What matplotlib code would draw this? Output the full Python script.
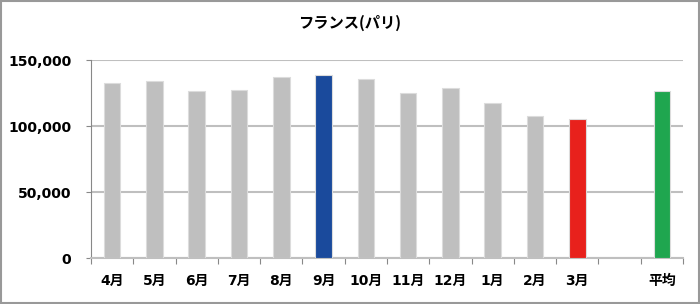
import numpy as np
import matplotlib.pyplot as plt
from matplotlib.patches import Rectangle

plt.rcParams['font.family'] = ['DejaVu Sans', 'Noto Sans CJK JP']

# Data
months = ["4月", "5月", "6月", "7月", "8月", "9月", "10月", "11月", "12月", "1月", "2月", "3月"]
visitors = [132800, 134300, 126700, 127500, 137400, 138900, 135600, 125000, 128500, 117400, 107600, 105500]
avg_label = "平均"
avg_value = 126700

labels = months + ["", avg_label]
values = visitors + [np.nan, avg_value]
colors = ["#bfbfbf"] * 12 + ["#bfbfbf", "#1fa64f"]
colors[5] = "#1a4a9c"   # 9月 highlight
colors[11] = "#e8211c"  # 3月 highlight

fig = plt.figure(figsize=(7, 3.04), dpi=100)
ax = fig.add_axes([0.13, 0.1513, 0.8457, 0.6513])

x = np.arange(len(labels))
ax.bar(x, values, width=0.39, color=colors, edgecolor="#dcdcdc", linewidth=0.8, zorder=3)

ax.set_xlim(-0.5, len(labels) - 0.5)
ax.set_ylim(0, 150000)
ax.set_yticks([0, 50000, 100000, 150000])
ax.set_yticklabels([f"{v:,}" for v in [0, 50000, 100000, 150000]], fontsize=10, fontweight="bold")
ax.yaxis.grid(True, color="#bfbfbf", linewidth=1.5, zorder=0)
ax.tick_params(axis="y", length=3.6, color="#888888", pad=10.5, direction="out")

# category ticks at slot boundaries, labels in the middle
ax.set_xticks(np.arange(-0.5, len(labels)), minor=False)
ax.set_xticklabels([])
ax.set_xticks(x, minor=True)
ax.set_xticklabels(labels, minor=True, fontsize=10, fontweight="bold")
ax.tick_params(axis="x", which="major", length=4, color="#888888", direction="out")
ax.tick_params(axis="x", which="minor", length=0, pad=11.5)

for s in ["top", "right"]:
    ax.spines[s].set_visible(False)
ax.spines["left"].set_color("#888888")
ax.spines["bottom"].set_color("#bfbfbf")
ax.spines["bottom"].set_linewidth(1.5)

fig.text(0.5, 0.925, "フランス(パリ)", ha="center", va="center", fontsize=11, fontweight="bold",
         family=["Noto Sans CJK JP", "DejaVu Sans"])

fig.patches.append(Rectangle((0.002, 0.003), 0.996, 0.994, transform=fig.transFigure,
                             fill=False, edgecolor="#999999", linewidth=1.5))

fig.savefig("out.png", dpi=100)
